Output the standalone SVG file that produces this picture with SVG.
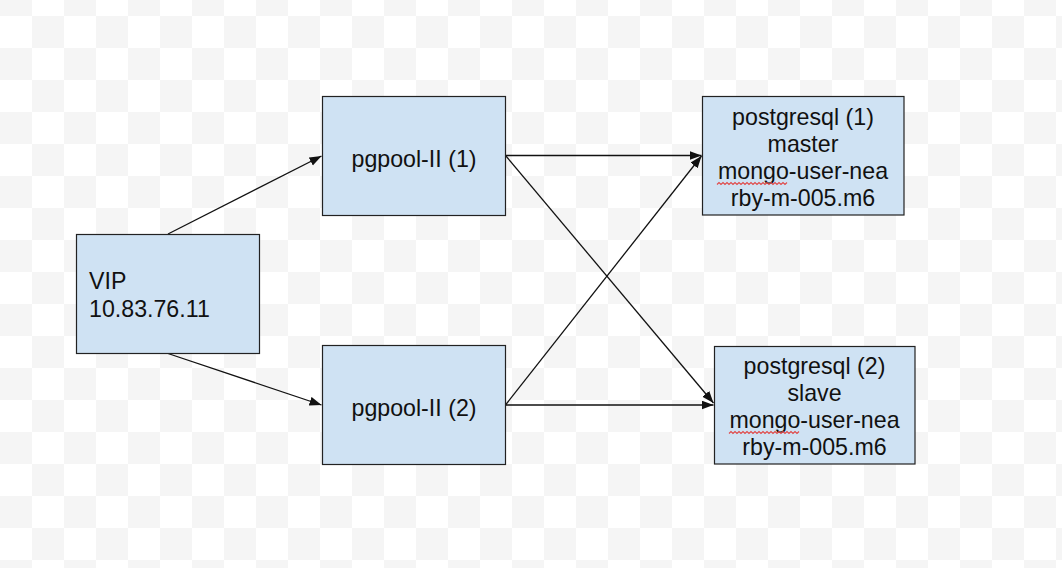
<svg xmlns="http://www.w3.org/2000/svg" width="1062" height="568" viewBox="0 0 1062 568">
<style>
.box{fill:#cfe2f3;stroke:#222;stroke-width:1.2}
.t{font-family:"Liberation Sans",Arial,sans-serif;font-size:23.2px;fill:#111}
.c{stroke:#111;stroke-width:1.3;fill:none;marker-end:url(#ah)}
.sq{stroke:#e04848;stroke-width:1.1;fill:none}
</style>
<defs>
<pattern id="chk" patternUnits="userSpaceOnUse" x="0" y="-16" width="64" height="64">
<rect x="0" y="0" width="64" height="64" fill="#ffffff"/>
<rect x="0" y="0" width="32" height="32" fill="#f5f5f5"/>
<rect x="32" y="32" width="32" height="32" fill="#f5f5f5"/>
</pattern>
<marker id="ah" markerUnits="userSpaceOnUse" markerWidth="13" markerHeight="10" refX="12" refY="4.5" orient="auto">
<path d="M0,0 L12,4.5 L0,9 z" fill="#111"/>
</marker>
</defs>
<rect width="1062" height="568" fill="url(#chk)"/>
<g id="connectors">
<line class="c" x1="168" y1="234" x2="321.5" y2="156"/>
<line class="c" x1="168" y1="353.5" x2="321.5" y2="405"/>
<line class="c" x1="505.5" y1="155.5" x2="701.5" y2="155.5"/>
<line class="c" x1="505.5" y1="155.5" x2="713.5" y2="403"/>
<line class="c" x1="505.5" y1="405" x2="701.5" y2="156"/>
<line class="c" x1="505.5" y1="405" x2="713.5" y2="405"/>
</g>
<g id="vip">
<rect class="box" x="76.5" y="234.5" width="183" height="119"/>
<text class="t" x="89" y="289">VIP</text>
<text class="t" x="89" y="316.5">10.83.76.11</text>
</g>
<g id="pgpool1">
<rect class="box" x="322.5" y="96.5" width="183" height="119"/>
<text class="t" x="414" y="166.5" text-anchor="middle">pgpool-II (1)</text>
</g>
<g id="pgpool2">
<rect class="box" x="322.5" y="345.5" width="183" height="119"/>
<text class="t" x="414" y="416" text-anchor="middle">pgpool-II (2)</text>
</g>
<g id="postgresql1">
<rect class="box" x="702.5" y="96.5" width="201.5" height="118.5"/>
<text class="t" text-anchor="middle"><tspan x="803" y="125">postgresql (1)</tspan><tspan x="803" y="152">master</tspan><tspan x="803" y="179">mongo-user-nea</tspan><tspan x="803" y="206">rby-m-005.m6</tspan></text>
<polyline class="sq" points="717,184.5 719,182.5 721,184.5 723,182.5 725,184.5 727,182.5 729,184.5 731,182.5 733,184.5 735,182.5 737,184.5 739,182.5 741,184.5 743,182.5 745,184.5 747,182.5 749,184.5 751,182.5 753,184.5 755,182.5 757,184.5 759,182.5 761,184.5 763,182.5 765,184.5 767,182.5 769,184.5 771,182.5 773,184.5 775,182.5 777,184.5 779,182.5 781,184.5 783,182.5 785,184.5 787,182.5"/>
</g>
<g id="postgresql2">
<rect class="box" x="714.5" y="346.5" width="200.5" height="117.5"/>
<text class="t" text-anchor="middle"><tspan x="814.5" y="374">postgresql (2)</tspan><tspan x="814.5" y="401">slave</tspan><tspan x="814.5" y="428">mongo-user-nea</tspan><tspan x="814.5" y="455">rby-m-005.m6</tspan></text>
<polyline class="sq" points="729,433.5 731,431.5 733,433.5 735,431.5 737,433.5 739,431.5 741,433.5 743,431.5 745,433.5 747,431.5 749,433.5 751,431.5 753,433.5 755,431.5 757,433.5 759,431.5 761,433.5 763,431.5 765,433.5 767,431.5 769,433.5 771,431.5 773,433.5 775,431.5 777,433.5 779,431.5 781,433.5 783,431.5 785,433.5 787,431.5 789,433.5 791,431.5 793,433.5 795,431.5 797,433.5 799,431.5"/>
</g>
</svg>
